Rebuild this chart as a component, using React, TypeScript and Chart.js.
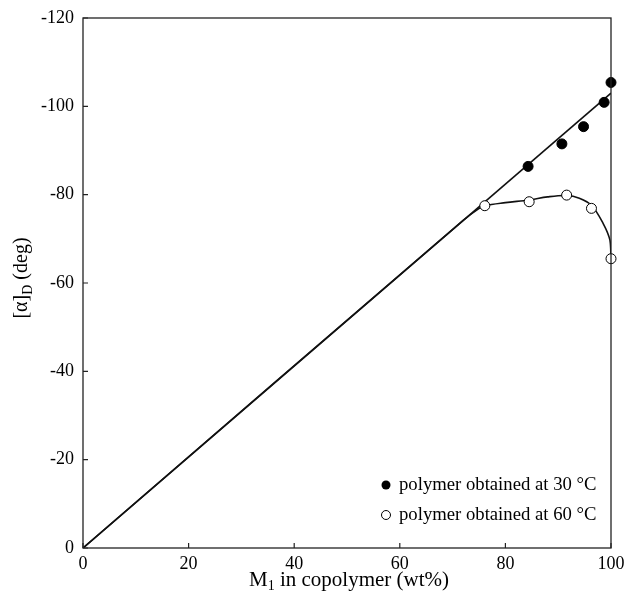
import React, { useEffect, useRef } from "react";
import { Chart, registerables } from "chart.js";

Chart.register(...registerables);

// Data (x: M1 wt%, y: [alpha]D in deg)
const fitLineX = [0, 100];
const fitLineY = [0, -103];

const curveX = [0, 72, 74.9, 76.1, 80, 84.5, 88, 91.6, 94, 96.3, 98.5, 99.8, 100];
const curveY = [0, -74.2, -76.8, -77.5, -78.2, -78.8, -79.5, -79.8, -79.2, -77.6, -73.5, -69.7, -65.5];

const pts30X = [84.3, 90.7, 94.8, 98.7, 100];
const pts30Y = [-86.4, -91.5, -95.4, -100.9, -105.4];

const pts60X = [76.1, 84.5, 91.6, 96.3, 100];
const pts60Y = [-77.5, -78.4, -79.9, -76.9, -65.5];

const xTicks = [0, 20, 40, 60, 80, 100];
const yTicks = [0, -20, -40, -60, -80, -100, -120];

const legendLabels = ["polymer obtained at 30 °C", "polymer obtained at 60 °C"];

const zip = (xs: number[], ys: number[]) => xs.map((x, i) => ({ x, y: ys[i] }));

const FONT = "'Liberation Serif', 'Times New Roman', serif";

const framePlugin = {
  id: "frame",
  afterDatasetsDraw(chart: any) {
    const { ctx, chartArea } = chart;
    const { left, right, top, bottom } = chartArea;
    const xs = chart.scales.x;
    const ys = chart.scales.y;
    ctx.save();
    ctx.strokeStyle = "#222";
    ctx.lineWidth = 1.3;
    ctx.strokeRect(left, top, right - left, bottom - top);
    // inward ticks
    ctx.lineWidth = 1.2;
    ctx.beginPath();
    xTicks.forEach((v) => {
      const px = xs.getPixelForValue(v);
      ctx.moveTo(px, bottom);
      ctx.lineTo(px, bottom - 5);
    });
    yTicks.forEach((v) => {
      const py = ys.getPixelForValue(v);
      ctx.moveTo(left, py);
      ctx.lineTo(left + 5, py);
    });
    ctx.stroke();

    // legend
    ctx.fillStyle = "#000";
    ctx.font = `18.7px ${FONT}`;
    ctx.textBaseline = "middle";
    ctx.textAlign = "left";
    const lx = 386;
    const rows = [485, 515];
    rows.forEach((ry, i) => {
      ctx.beginPath();
      ctx.arc(lx, ry, 4.5, 0, Math.PI * 2);
      if (i === 0) {
        ctx.fillStyle = "#000";
        ctx.fill();
      } else {
        ctx.fillStyle = "#fff";
        ctx.fill();
        ctx.strokeStyle = "#000";
        ctx.lineWidth = 1;
        ctx.stroke();
      }
      ctx.fillStyle = "#000";
      ctx.fillText(legendLabels[i], 399, ry);
    });

    // x title with subscript
    const big = `21px ${FONT}`;
    const subFont = `14px ${FONT}`;
    ctx.font = big;
    const xa = "M";
    const xsub = "1";
    const xb = " in copolymer (wt%)";
    const wA = ctx.measureText(xa).width;
    const wB = ctx.measureText(xb).width;
    ctx.font = subFont;
    const wS = ctx.measureText(xsub).width;
    const total = wA + wS + wB;
    let cx = 349 - total / 2;
    const by = 586;
    ctx.textBaseline = "alphabetic";
    ctx.font = big;
    ctx.fillText(xa, cx, by);
    cx += wA;
    ctx.font = subFont;
    ctx.fillText(xsub, cx, by + 4);
    cx += wS;
    ctx.font = big;
    ctx.fillText(xb, cx, by);

    // y title with subscript
    ctx.save();
    ctx.translate(27, 278);
    ctx.rotate(-Math.PI / 2);
    const ya = "[α]";
    const ysub = "D";
    const yb = " (deg)";
    const yBig = `20px ${FONT}`;
    ctx.font = yBig;
    const yA = ctx.measureText(ya).width;
    const yB = ctx.measureText(yb).width;
    ctx.font = subFont;
    const yS = ctx.measureText(ysub).width;
    let ty = -(yA + yS + yB) / 2;
    ctx.font = yBig;
    ctx.fillText(ya, ty, 0);
    ty += yA;
    ctx.font = subFont;
    ctx.fillText(ysub, ty, 5);
    ty += yS;
    ctx.font = yBig;
    ctx.fillText(yb, ty, 0);
    ctx.restore();

    ctx.restore();
  },
};

export default function App() {
  const ref = useRef<HTMLCanvasElement | null>(null);
  useEffect(() => {
    if (!ref.current) return;
    const chart = new Chart(ref.current, {
      type: "scatter",
      data: {
        datasets: [
          {
            label: legendLabels[0],
            data: zip(pts30X, pts30Y),
            backgroundColor: "#000",
            borderColor: "#000",
            pointRadius: 5,
            pointHoverRadius: 5,
            showLine: false,
            clip: false,
            order: 0,
          },
          {
            label: legendLabels[1],
            data: zip(pts60X, pts60Y),
            backgroundColor: "#fff",
            borderColor: "#000",
            borderWidth: 1,
            pointRadius: 5,
            pointHoverRadius: 5,
            showLine: false,
            clip: false,
            order: 0,
          },
          {
            label: "fit",
            data: zip(fitLineX, fitLineY),
            borderColor: "#111",
            borderWidth: 1.6,
            pointRadius: 0,
            showLine: true,
            order: 1,
          },
          {
            label: "curve",
            data: zip(curveX, curveY),
            borderColor: "#111",
            borderWidth: 1.6,
            pointRadius: 0,
            showLine: true,
            tension: 0.35,
            order: 1,
          },
        ],
      },
      options: {
        animation: false,
        responsive: false,
        devicePixelRatio: 1,
        layout: { padding: { top: 18, right: 16, left: 0, bottom: 0 } },
        plugins: { legend: { display: false }, tooltip: { enabled: false } },
        scales: {
          x: {
            type: "linear",
            min: 0,
            max: 100,
            grid: { display: false, drawTicks: false },
            border: { display: false },
            afterBuildTicks: (s: any) => {
              s.ticks = xTicks.map((v) => ({ value: v }));
            },
            afterFit: (s: any) => {
              s.height = 56;
              s.paddingLeft = 0;
              s.paddingRight = 0;
            },
            ticks: {
              color: "#000",
              font: { family: FONT, size: 18 },
              padding: 5,
            },
          },
          y: {
            type: "linear",
            min: -120,
            max: 0,
            reverse: true,
            grid: { display: false, drawTicks: false },
            border: { display: false },
            afterBuildTicks: (s: any) => {
              s.ticks = yTicks.map((v) => ({ value: v }));
            },
            afterFit: (s: any) => {
              s.width = 83;
              s.paddingTop = 0;
              s.paddingBottom = 0;
            },
            ticks: {
              color: "#000",
              font: { family: FONT, size: 18 },
              padding: 9,
              callback: (v: any) => String(v),
            },
          },
        },
      },
      plugins: [framePlugin],
    });
    return () => chart.destroy();
  }, []);
  return (
    <div style={{ position: "fixed", left: 0, top: 0, width: 627, height: 604, background: "#fff" }}>
      <canvas ref={ref} width={627} height={604} style={{ width: 627, height: 604 }} />
    </div>
  );
}
